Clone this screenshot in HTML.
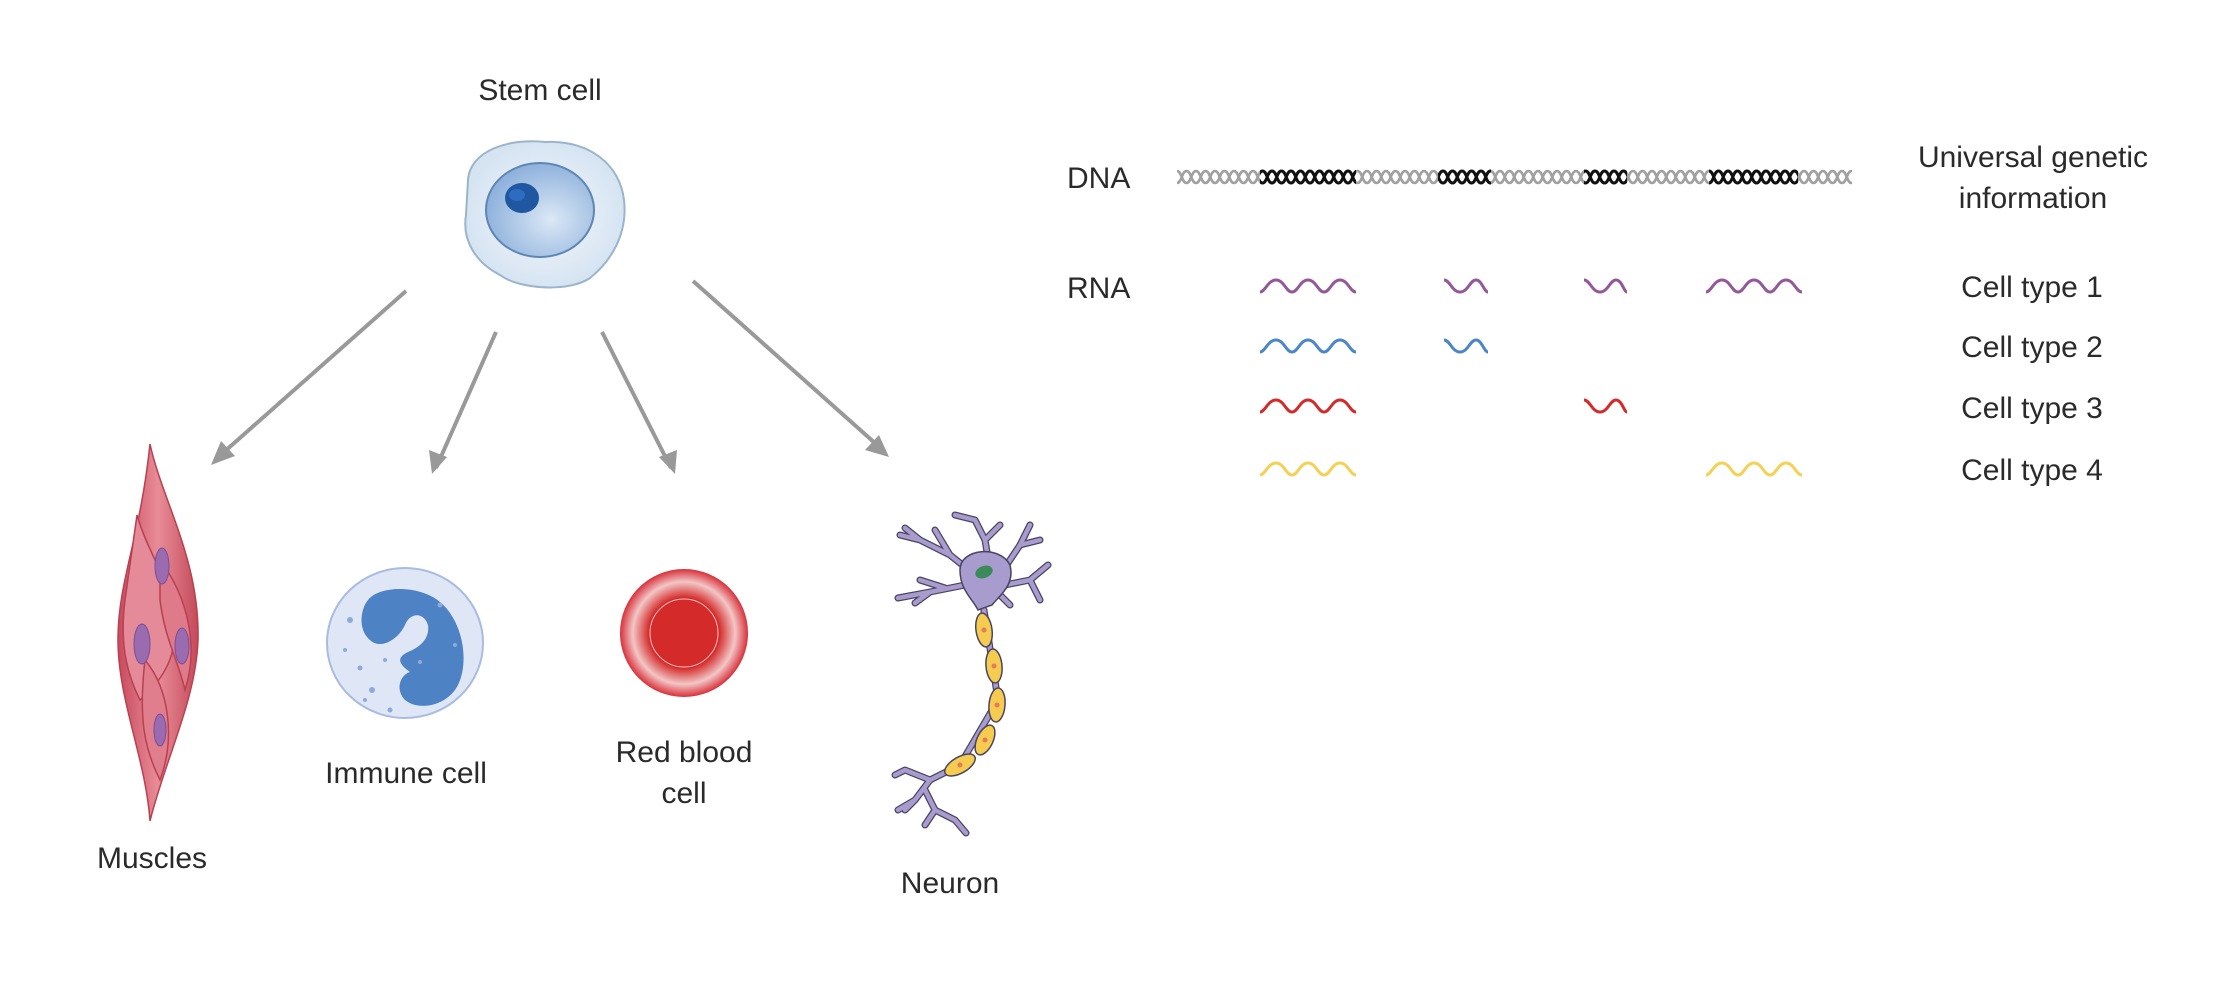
<!DOCTYPE html>
<html><head><meta charset="utf-8"><style>
html,body{margin:0;padding:0;background:#fff}
svg{display:block}
text{font-family:"Liberation Sans",Arial,sans-serif;fill:#2a2a2a;font-size:30px}
</style></head><body>
<svg width="2238" height="1002" viewBox="0 0 2238 1002" xmlns="http://www.w3.org/2000/svg">
<defs>
<pattern id="hg" width="19" height="16" patternUnits="userSpaceOnUse" x="1177" y="169">
 <path d="M0,2 C4.75,2 4.75,14 9.5,14 C14.25,14 14.25,2 19,2 M0,14 C4.75,14 4.75,2 9.5,2 C14.25,2 14.25,14 19,14" fill="none" stroke="#a0a0a0" stroke-width="2.6"/>
</pattern>
<pattern id="hb" width="19" height="16" patternUnits="userSpaceOnUse" x="1177" y="169">
 <path d="M0,2 C4.75,2 4.75,14 9.5,14 C14.25,14 14.25,2 19,2 M0,14 C4.75,14 4.75,2 9.5,2 C14.25,2 14.25,14 19,14" fill="none" stroke="#111" stroke-width="3"/>
</pattern>
<radialGradient id="stem" cx="0.5" cy="0.5" r="0.5"><stop offset="0" stop-color="#f4f8fc"/><stop offset="1" stop-color="#d6e4f2"/></radialGradient>
<radialGradient id="nuc" cx="0.6" cy="0.6" r="0.6"><stop offset="0" stop-color="#dbe8f6"/><stop offset="1" stop-color="#8fb2dc"/></radialGradient>
<radialGradient id="rbc" cx="0.5" cy="0.5" r="0.5"><stop offset="0.55" stop-color="#d42a2a"/><stop offset="0.8" stop-color="#f3c6c6"/><stop offset="1" stop-color="#d8303a"/></radialGradient>
<linearGradient id="mus" x1="0" x2="1"><stop offset="0" stop-color="#c84a5e"/><stop offset="0.5" stop-color="#e88c98"/><stop offset="1" stop-color="#c44a5a"/></linearGradient>
</defs>

<!-- Stem cell -->
<text x="540" y="100" text-anchor="middle">Stem cell</text>
<path d="M468,180 C470,150 510,138 545,142 C590,140 620,165 624,200 C628,235 610,262 590,278 C570,292 520,290 500,275 C475,262 462,240 466,215 Z" fill="url(#stem)" stroke="#9ab4cc" stroke-width="2"/>
<ellipse cx="540" cy="210" rx="54" ry="47" fill="url(#nuc)" stroke="#5f85b5" stroke-width="2"/>
<ellipse cx="522" cy="198" rx="17" ry="15" fill="#1f58a0"/>
<ellipse cx="517" cy="195" rx="8" ry="6" fill="#2d6cc0"/>

<!-- arrows -->
<g stroke="#999" stroke-width="4" fill="none">
<line x1="406" y1="291" x2="215" y2="460"/>
<line x1="496" y1="332" x2="436" y2="468"/>
<line x1="602" y1="332" x2="671" y2="468"/>
<line x1="693" y1="281" x2="885" y2="452"/>
</g>
<g fill="#999">
<polygon points="211,465 221,441 235,456"/>
<polygon points="432,474 429,450 447,457"/>
<polygon points="675,474 659,457 677,450"/>
<polygon points="889,457 865,450 879,435"/>
</g>

<!-- Muscles -->
<g stroke="#b8404f" stroke-width="1.5">
<path d="M150,444 C162,500 200,560 198,640 C196,700 165,760 150,821 C146,760 118,700 118,640 C118,580 140,540 150,444 Z" fill="url(#mus)"/>
<path d="M137,515 C150,560 175,585 175,630 C175,670 150,690 140,700 C125,670 120,640 125,600 Z" fill="#e58a98"/>
<path d="M160,560 C190,600 198,650 185,690 C178,660 165,640 160,600 Z" fill="#df7a8a"/>
<path d="M145,660 C170,690 175,740 160,780 C145,750 138,720 145,660 Z" fill="#e07e8e"/>
</g>
<g fill="#9b6bb0" stroke="#7c4d96" stroke-width="1">
<ellipse cx="162" cy="566" rx="7" ry="18"/>
<ellipse cx="142" cy="644" rx="8" ry="20"/>
<ellipse cx="182" cy="646" rx="7" ry="18"/>
<ellipse cx="160" cy="730" rx="6" ry="16"/>
</g>
<text x="152" y="868" text-anchor="middle">Muscles</text>

<!-- Immune cell -->
<ellipse cx="405" cy="643" rx="78" ry="75" fill="#dfe6f6" stroke="#a9bbe0" stroke-width="2"/>
<path d="M368,600 C380,585 420,585 440,602 C462,620 470,660 458,685 C448,705 420,712 405,700 C395,690 400,675 410,672 C400,665 395,658 408,652 C418,648 430,640 428,625 C424,612 410,612 405,625 C398,640 380,650 370,640 C358,630 360,610 368,600 Z" fill="#4d82c4"/>
<g fill="#8cabda"><circle cx="350" cy="620" r="3"/><circle cx="360" cy="668" r="2.5"/><circle cx="372" cy="690" r="3"/><circle cx="385" cy="660" r="2"/><circle cx="345" cy="650" r="2"/><circle cx="440" cy="605" r="2.5"/><circle cx="455" cy="645" r="2"/><circle cx="390" cy="710" r="2.5"/><circle cx="420" cy="662" r="2"/><circle cx="365" cy="700" r="2"/></g>
<text x="406" y="783" text-anchor="middle">Immune cell</text>

<!-- RBC -->
<circle cx="684" cy="633" r="64" fill="url(#rbc)"/>
<circle cx="684" cy="633" r="34" fill="none" stroke="#f5c0c0" stroke-width="1"/>
<text x="684" y="762" text-anchor="middle">Red blood</text>
<text x="684" y="803" text-anchor="middle">cell</text>

<!-- Neuron -->
<g stroke="#4a4460" stroke-width="7" fill="none" stroke-linecap="round" stroke-linejoin="round">
<path id="dend" d="M975,575 L950,555 L920,540 L900,535 M950,555 L935,530 M920,540 L905,528 M965,585 L930,592 L898,598 M930,592 L915,603 M945,588 L920,580 M990,570 L985,540 L975,520 L955,515 M985,540 L1000,525 M1000,575 L1020,545 L1030,525 M1020,545 L1040,540 M1005,585 L1030,580 L1040,600 M1030,580 L1048,565 M1000,595 L1010,605 M984,615 L984,610 L998,700 L960,765 L930,780 M930,780 L905,770 L895,775 M930,780 L915,800 L898,810 M925,790 L935,810 L925,825 M935,810 L955,820 L966,833 M915,800 L905,810"/>
</g>
<g stroke="#a89ccf" stroke-width="4.5" fill="none" stroke-linecap="round" stroke-linejoin="round">
<path d="M975,575 L950,555 L920,540 L900,535 M950,555 L935,530 M920,540 L905,528 M965,585 L930,592 L898,598 M930,592 L915,603 M945,588 L920,580 M990,570 L985,540 L975,520 L955,515 M985,540 L1000,525 M1000,575 L1020,545 L1030,525 M1020,545 L1040,540 M1005,585 L1030,580 L1040,600 M1030,580 L1048,565 M1000,595 L1010,605 M984,615 L984,610 L998,700 L960,765 L930,780 M930,780 L905,770 L895,775 M930,780 L915,800 L898,810 M925,790 L935,810 L925,825 M935,810 L955,820 L966,833 M915,800 L905,810"/>
</g>
<path d="M960,570 C960,548 1000,545 1010,565 C1015,585 1000,595 992,605 L978,610 C972,598 960,590 960,570 Z" fill="#a89ccf" stroke="#4a4460" stroke-width="1.5"/>
<path d="M962,575 L975,590 L990,590 L1005,575" fill="#a89ccf" stroke="none"/>
<ellipse cx="984" cy="572" rx="9" ry="6" fill="#3a8a5a" transform="rotate(-20 984 572)"/>
<g stroke="#4a4460" stroke-width="1.5" fill="#f5cc50">
<ellipse cx="984" cy="630" rx="8" ry="17" transform="rotate(-8 984 630)"/>
<ellipse cx="994" cy="666" rx="8" ry="17" transform="rotate(-5 994 666)"/>
<ellipse cx="997" cy="705" rx="8" ry="17" transform="rotate(5 997 705)"/>
<ellipse cx="985" cy="740" rx="8" ry="16" transform="rotate(25 985 740)"/>
<ellipse cx="960" cy="765" rx="8" ry="17" transform="rotate(60 960 765)"/>
</g>
<g fill="#e77a5a"><circle cx="984" cy="630" r="2.5"/><circle cx="994" cy="666" r="2.5"/><circle cx="997" cy="705" r="2.5"/><circle cx="985" cy="740" r="2.5"/><circle cx="960" cy="765" r="2.5"/></g>
<text x="950" y="893" text-anchor="middle">Neuron</text>

<!-- DNA -->
<text x="1067" y="188">DNA</text>
<rect x="1177" y="169" width="675" height="16" fill="url(#hg)"/>
<rect x="1260" y="169" width="96" height="16" fill="#fff"/><rect x="1260" y="169" width="96" height="16" fill="url(#hb)"/>
<rect x="1438" y="169" width="53" height="16" fill="#fff"/><rect x="1438" y="169" width="53" height="16" fill="url(#hb)"/>
<rect x="1584" y="169" width="43" height="16" fill="#fff"/><rect x="1584" y="169" width="43" height="16" fill="url(#hb)"/>
<rect x="1709" y="169" width="89" height="16" fill="#fff"/><rect x="1709" y="169" width="89" height="16" fill="url(#hb)"/>
<text x="2033" y="167" text-anchor="middle">Universal genetic</text>
<text x="2033" y="208" text-anchor="middle">information</text>

<!-- RNA -->
<text x="1067" y="298">RNA</text>
<g fill="none" stroke-width="3">
<g stroke="#93579a">
<path d="M1260,292 C1265,292 1268,280 1276,280 C1284,280 1286,292 1292,292 C1298,292 1300,280 1308,280 C1316,280 1318,292 1324,292 C1330,292 1332,280 1340,280 C1348,280 1350,292 1356,292"/>
<path d="M1444,280 C1450,280 1452,292 1460,292 C1468,292 1470,280 1476,280 C1482,280 1484,292 1488,292"/>
<path d="M1584,280 C1590,280 1592,292 1600,292 C1608,292 1610,280 1616,280 C1622,280 1624,292 1627,292"/>
<path d="M1706,292 C1711,292 1714,280 1722,280 C1730,280 1732,292 1738,292 C1744,292 1746,280 1754,280 C1762,280 1764,292 1770,292 C1776,292 1778,280 1786,280 C1794,280 1796,292 1802,292"/>
</g>
<g stroke="#4a86c8" transform="translate(0,60)">
<path d="M1260,292 C1265,292 1268,280 1276,280 C1284,280 1286,292 1292,292 C1298,292 1300,280 1308,280 C1316,280 1318,292 1324,292 C1330,292 1332,280 1340,280 C1348,280 1350,292 1356,292"/>
<path d="M1444,280 C1450,280 1452,292 1460,292 C1468,292 1470,280 1476,280 C1482,280 1484,292 1488,292"/>
</g>
<g stroke="#d42a2a" transform="translate(0,120)">
<path d="M1260,292 C1265,292 1268,280 1276,280 C1284,280 1286,292 1292,292 C1298,292 1300,280 1308,280 C1316,280 1318,292 1324,292 C1330,292 1332,280 1340,280 C1348,280 1350,292 1356,292"/>
<path d="M1584,280 C1590,280 1592,292 1600,292 C1608,292 1610,280 1616,280 C1622,280 1624,292 1627,292"/>
</g>
<g stroke="#f5d055" transform="translate(0,183)">
<path d="M1260,292 C1265,292 1268,280 1276,280 C1284,280 1286,292 1292,292 C1298,292 1300,280 1308,280 C1316,280 1318,292 1324,292 C1330,292 1332,280 1340,280 C1348,280 1350,292 1356,292"/>
<path d="M1706,292 C1711,292 1714,280 1722,280 C1730,280 1732,292 1738,292 C1744,292 1746,280 1754,280 C1762,280 1764,292 1770,292 C1776,292 1778,280 1786,280 C1794,280 1796,292 1802,292"/>
</g>
</g>
<text x="2032" y="297" text-anchor="middle">Cell type 1</text>
<text x="2032" y="357" text-anchor="middle">Cell type 2</text>
<text x="2032" y="418" text-anchor="middle">Cell type 3</text>
<text x="2032" y="480" text-anchor="middle">Cell type 4</text>
</svg>
</body></html>
